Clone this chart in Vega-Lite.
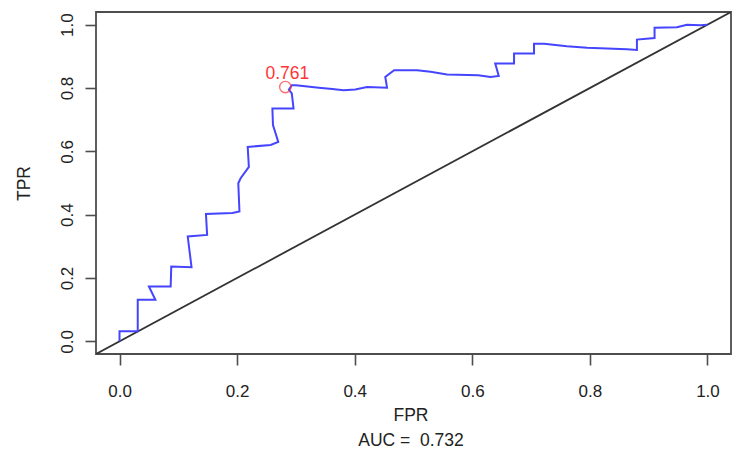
{
  "$schema": "https://vega.github.io/schema/vega-lite/v6.json",
  "autosize": {"type": "none"},
  "width": 635,
  "height": 342,
  "padding": {"left": 96, "top": 12, "right": 2, "bottom": 101},
  "background": "white",
  "config": {
    "view": {"stroke": "#4d4d4d", "strokeWidth": 1.8},
    "font": "Liberation Sans",
    "axis": {
      "grid": false,
      "domain": false,
      "tickColor": "#4d4d4d",
      "tickWidth": 1.6,
      "tickSize": 11,
      "labelFont": "Liberation Sans",
      "labelFontSize": 17,
      "labelColor": "#222222",
      "titleFont": "Liberation Sans",
      "titleFontSize": 17.5,
      "titleFontWeight": "normal",
      "titleColor": "#222222"
    }
  },
  "datasets": {
    "roc": [
      {"i": 0, "fpr": 0, "tpr": 0},
      {"i": 1, "fpr": 0, "tpr": 0.0315},
      {"i": 2, "fpr": 0.031, "tpr": 0.0315},
      {"i": 3, "fpr": 0.031, "tpr": 0.131},
      {"i": 4, "fpr": 0.061, "tpr": 0.131},
      {"i": 5, "fpr": 0.05, "tpr": 0.173},
      {"i": 6, "fpr": 0.087, "tpr": 0.173},
      {"i": 7, "fpr": 0.088, "tpr": 0.236},
      {"i": 8, "fpr": 0.1225, "tpr": 0.234},
      {"i": 9, "fpr": 0.116, "tpr": 0.331},
      {"i": 10, "fpr": 0.149, "tpr": 0.336},
      {"i": 11, "fpr": 0.147, "tpr": 0.402},
      {"i": 12, "fpr": 0.192, "tpr": 0.405},
      {"i": 13, "fpr": 0.204, "tpr": 0.41},
      {"i": 14, "fpr": 0.202, "tpr": 0.499},
      {"i": 15, "fpr": 0.206, "tpr": 0.515},
      {"i": 16, "fpr": 0.22, "tpr": 0.551},
      {"i": 17, "fpr": 0.218, "tpr": 0.614},
      {"i": 18, "fpr": 0.257, "tpr": 0.62},
      {"i": 19, "fpr": 0.27, "tpr": 0.63},
      {"i": 20, "fpr": 0.261, "tpr": 0.683},
      {"i": 21, "fpr": 0.26, "tpr": 0.735},
      {"i": 22, "fpr": 0.296, "tpr": 0.735},
      {"i": 23, "fpr": 0.293, "tpr": 0.783},
      {"i": 24, "fpr": 0.288, "tpr": 0.795},
      {"i": 25, "fpr": 0.293, "tpr": 0.809},
      {"i": 26, "fpr": 0.3, "tpr": 0.809},
      {"i": 27, "fpr": 0.339, "tpr": 0.801},
      {"i": 28, "fpr": 0.362, "tpr": 0.797},
      {"i": 29, "fpr": 0.381, "tpr": 0.793},
      {"i": 30, "fpr": 0.401, "tpr": 0.795},
      {"i": 31, "fpr": 0.421, "tpr": 0.803},
      {"i": 32, "fpr": 0.455, "tpr": 0.801},
      {"i": 33, "fpr": 0.452, "tpr": 0.835},
      {"i": 34, "fpr": 0.467, "tpr": 0.856},
      {"i": 35, "fpr": 0.506, "tpr": 0.856},
      {"i": 36, "fpr": 0.529, "tpr": 0.851},
      {"i": 37, "fpr": 0.557, "tpr": 0.843},
      {"i": 38, "fpr": 0.61, "tpr": 0.84},
      {"i": 39, "fpr": 0.631, "tpr": 0.835},
      {"i": 40, "fpr": 0.645, "tpr": 0.838},
      {"i": 41, "fpr": 0.639, "tpr": 0.877},
      {"i": 42, "fpr": 0.671, "tpr": 0.877},
      {"i": 43, "fpr": 0.671, "tpr": 0.909},
      {"i": 44, "fpr": 0.705, "tpr": 0.909},
      {"i": 45, "fpr": 0.705, "tpr": 0.94},
      {"i": 46, "fpr": 0.722, "tpr": 0.94},
      {"i": 47, "fpr": 0.761, "tpr": 0.932},
      {"i": 48, "fpr": 0.795, "tpr": 0.927},
      {"i": 49, "fpr": 0.863, "tpr": 0.922},
      {"i": 50, "fpr": 0.88, "tpr": 0.92},
      {"i": 51, "fpr": 0.88, "tpr": 0.953},
      {"i": 52, "fpr": 0.91, "tpr": 0.958},
      {"i": 53, "fpr": 0.91, "tpr": 0.99},
      {"i": 54, "fpr": 0.948, "tpr": 0.992},
      {"i": 55, "fpr": 0.965, "tpr": 1.0},
      {"i": 56, "fpr": 0.988, "tpr": 0.998},
      {"i": 57, "fpr": 1.0, "tpr": 1.0}
    ],
    "diag": [
      {"i": 0, "fpr": -0.04, "tpr": -0.04},
      {"i": 1, "fpr": 1.04, "tpr": 1.04}
    ],
    "best": [
      {"fpr": 0.282, "tpr": 0.803, "labelY": 0.845, "label": "0.761"}
    ]
  },
  "encoding": {
    "x": {
      "field": "fpr", "type": "quantitative",
      "scale": {"domain": [-0.04, 1.04], "nice": false, "zero": false},
      "axis": {
        "values": [0, 0.2, 0.4, 0.6, 0.8, 1.0],
        "format": ".1f",
        "labelPadding": 18,
        "labelBaseline": "top",
        "title": ["FPR", "AUC = \u00a00.732"],
        "titleLineHeight": 25,
        "titleBaseline": "top",
        "titleAlign": "center",
        "titleX": 314.5,
        "titleY": 52
      }
    },
    "y": {
      "field": "tpr", "type": "quantitative",
      "scale": {"domain": [-0.04, 1.04], "nice": false, "zero": false},
      "axis": {
        "values": [0, 0.2, 0.4, 0.6, 0.8, 1.0],
        "format": ".1f",
        "labelAngle": -90,
        "labelAlign": "center",
        "labelBaseline": "alphabetic",
        "labelPadding": 13,
        "title": "TPR",
        "titleAngle": -90,
        "titleAlign": "center",
        "titleBaseline": "alphabetic",
        "titleX": -67,
        "titleY": 171
      }
    }
  },
  "layer": [
    {
      "data": {"name": "diag"},
      "mark": {"type": "line", "color": "#333333", "strokeWidth": 1.8, "clip": true},
      "encoding": {"order": {"field": "i"}}
    },
    {
      "data": {"name": "roc"},
      "mark": {"type": "line", "color": "#4545ff", "strokeWidth": 2, "clip": true},
      "encoding": {"order": {"field": "i"}}
    },
    {
      "data": {"name": "best"},
      "mark": {"type": "point", "shape": "circle", "filled": false, "color": "#ff3535", "size": 130, "strokeWidth": 1.4}
    },
    {
      "data": {"name": "best"},
      "mark": {"type": "text", "color": "#ff3535", "font": "Liberation Sans", "fontSize": 17.5, "align": "center", "baseline": "middle", "dx": 2},
      "encoding": {
        "y": {"field": "labelY", "type": "quantitative"},
        "text": {"field": "label"}
      }
    }
  ]
}
